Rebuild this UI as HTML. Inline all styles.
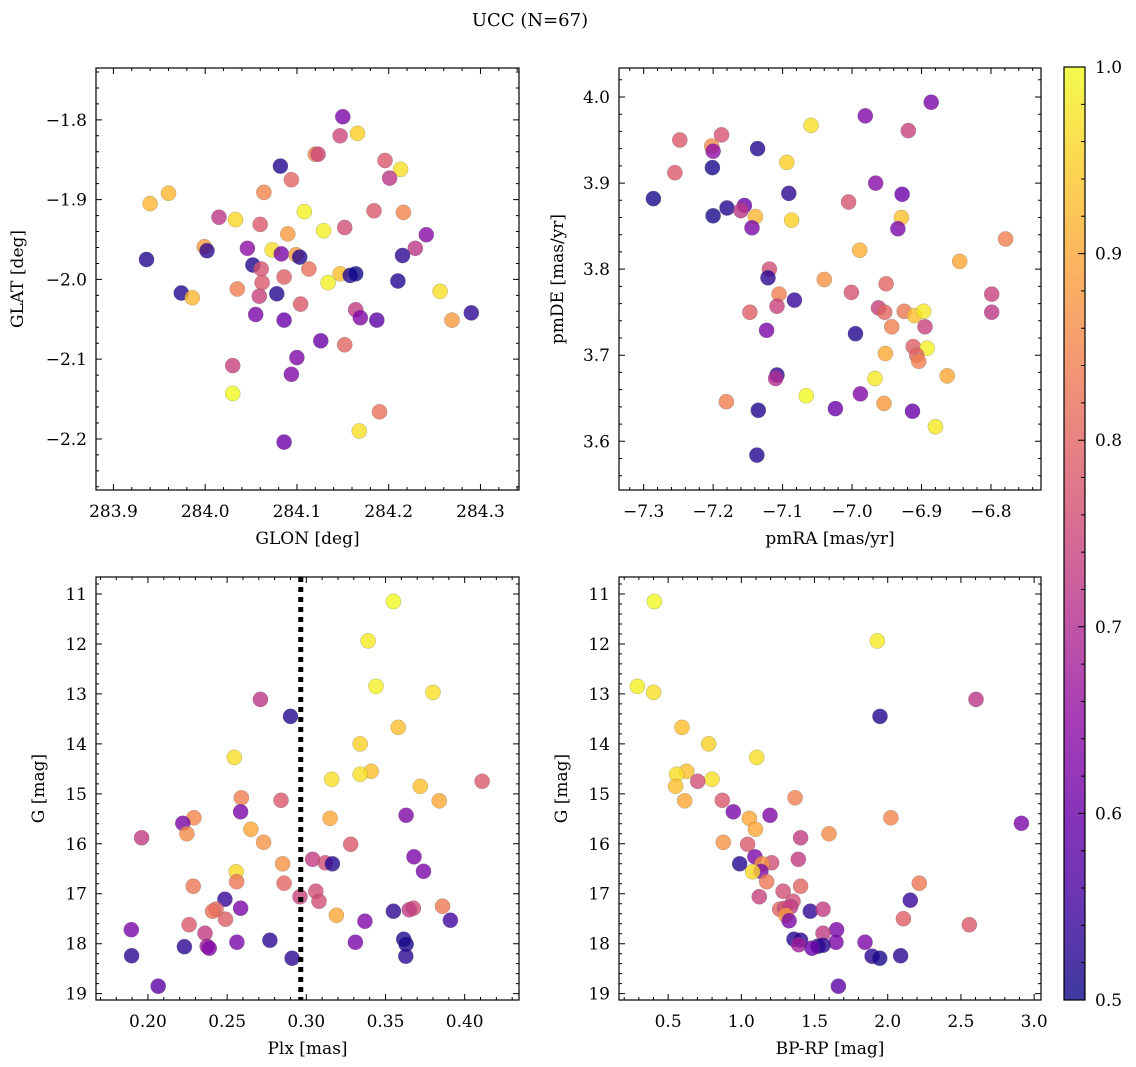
<!DOCTYPE html>
<html><head><meta charset="utf-8">
<style>
html,body{margin:0;padding:0;background:#fff;}
svg{display:block;font-family:"DejaVu Serif","Liberation Serif",serif;}
</style></head>
<body>
<svg id="fig" width="1136" height="1067" viewBox="0 0 1136 1067" xmlns="http://www.w3.org/2000/svg">
<rect width="1136" height="1067" fill="#fff"/>
<text x="530" y="26" font-size="18" text-anchor="middle" fill="#000">UCC (N=67)</text>
</svg>
<script>
// ---- Panel 1: GLON vs GLAT ----
const p1_glon=[284.150,284.147,284.166,284.120,284.123,284.082,284.094,284.196,284.213,284.201,283.940,283.960,284.064,284.015,284.033,284.108,284.184,284.216,284.060,284.090,284.129,284.152,284.241,283.999,284.002,284.046,284.073,284.083,284.099,284.103,284.229,284.215,283.936,284.052,284.061,284.062,284.086,284.113,284.147,284.158,284.164,284.134,284.210,283.974,283.986,284.035,284.059,284.078,284.104,284.055,284.086,284.164,284.169,284.187,284.256,284.269,284.290,284.126,284.152,284.100,284.030,284.094,284.030,284.190,284.168,284.086];
const p1_glat=[-1.796,-1.820,-1.817,-1.843,-1.843,-1.858,-1.875,-1.851,-1.862,-1.873,-1.905,-1.892,-1.891,-1.922,-1.925,-1.915,-1.914,-1.916,-1.931,-1.943,-1.939,-1.935,-1.944,-1.959,-1.964,-1.961,-1.963,-1.968,-1.969,-1.972,-1.961,-1.970,-1.975,-1.982,-1.987,-2.004,-1.997,-1.987,-1.993,-1.995,-1.993,-2.004,-2.002,-2.017,-2.023,-2.012,-2.021,-2.018,-2.031,-2.044,-2.051,-2.038,-2.048,-2.051,-2.015,-2.051,-2.042,-2.077,-2.082,-2.098,-2.108,-2.119,-2.143,-2.166,-2.190,-2.204];
const p1_prob=[0.62,0.75,0.95,0.85,0.75,0.52,0.80,0.78,0.97,0.72,0.92,0.92,0.85,0.72,0.96,0.99,0.78,0.85,0.78,0.88,0.99,0.76,0.64,0.88,0.53,0.65,0.97,0.62,0.88,0.52,0.72,0.53,0.52,0.52,0.77,0.78,0.79,0.82,0.93,0.52,0.50,0.99,0.52,0.52,0.92,0.84,0.74,0.52,0.78,0.62,0.60,0.73,0.63,0.58,0.97,0.88,0.53,0.60,0.80,0.63,0.74,0.63,1.00,0.82,0.97,0.60];
const p1_xticks=[283.9,284.0,284.1,284.2,284.3];
const p1_yticks=[-1.8,-1.9,-2.0,-2.1,-2.2];

// ---- Panel 2: pmRA vs pmDE ----
const p2_pmra=[-6.886,-6.981,-7.059,-6.919,-7.188,-7.248,-7.202,-7.200,-7.136,-7.094,-7.255,-7.201,-7.286,-7.091,-7.005,-6.966,-6.928,-7.180,-7.155,-7.160,-7.200,-7.139,-7.144,-7.087,-6.929,-6.934,-6.779,-6.989,-6.845,-7.119,-7.121,-7.040,-6.951,-7.001,-6.799,-7.105,-7.083,-7.108,-7.147,-6.962,-6.953,-6.925,-6.910,-6.897,-6.799,-6.943,-6.895,-7.123,-6.995,-6.912,-6.892,-6.907,-6.904,-6.952,-7.108,-7.110,-6.967,-6.863,-7.066,-6.988,-7.181,-6.954,-7.024,-7.135,-6.913,-6.880,-7.137];
const p2_pmde=[3.994,3.978,3.967,3.961,3.956,3.950,3.943,3.937,3.940,3.924,3.912,3.918,3.882,3.888,3.878,3.900,3.887,3.871,3.874,3.868,3.862,3.861,3.848,3.857,3.860,3.847,3.835,3.822,3.809,3.800,3.790,3.788,3.783,3.773,3.771,3.771,3.764,3.757,3.750,3.755,3.750,3.751,3.746,3.751,3.750,3.733,3.733,3.729,3.725,3.710,3.708,3.700,3.693,3.702,3.677,3.673,3.673,3.676,3.653,3.655,3.646,3.644,3.638,3.636,3.635,3.617,3.584];
const p2_prob=[0.62,0.63,0.97,0.74,0.77,0.78,0.86,0.65,0.52,0.95,0.78,0.51,0.51,0.53,0.77,0.64,0.60,0.52,0.60,0.72,0.51,0.92,0.62,0.95,0.93,0.62,0.84,0.91,0.90,0.76,0.53,0.87,0.80,0.77,0.74,0.84,0.54,0.74,0.79,0.74,0.80,0.83,0.93,0.98,0.72,0.84,0.74,0.62,0.52,0.79,0.99,0.80,0.84,0.90,0.54,0.70,0.98,0.90,1.00,0.63,0.84,0.88,0.60,0.52,0.60,0.98,0.52];
const p2_xticks=[-7.3,-7.2,-7.1,-7.0,-6.9,-6.8];
const p2_yticks=[4.0,3.9,3.8,3.7,3.6];

// ---- Panel 3: Plx vs G ----
const p3_plx=[0.355,0.339,0.344,0.380,0.271,0.290,0.358,0.334,0.2545,0.341,0.334,0.316,0.411,0.372,0.259,0.284,0.384,0.2585,0.363,0.229,0.315,0.222,0.265,0.2246,0.196,0.273,0.328,0.368,0.304,0.312,0.3165,0.285,0.374,0.2557,0.256,0.286,0.2286,0.306,0.296,0.2486,0.308,0.386,0.2585,0.3676,0.365,0.243,0.2408,0.355,0.319,0.249,0.391,0.337,0.226,0.1895,0.236,0.3615,0.277,0.2562,0.331,0.363,0.2374,0.2387,0.223,0.1897,0.3628,0.291,0.2065];
const p3_g=[11.15,11.94,12.85,12.97,13.11,13.45,13.67,14.00,14.27,14.55,14.61,14.71,14.75,14.85,15.08,15.13,15.14,15.36,15.43,15.48,15.49,15.59,15.71,15.80,15.88,15.97,16.01,16.26,16.31,16.38,16.40,16.40,16.55,16.56,16.76,16.79,16.85,16.95,17.06,17.11,17.15,17.25,17.29,17.29,17.32,17.31,17.35,17.35,17.43,17.51,17.53,17.55,17.62,17.72,17.79,17.91,17.93,17.97,17.97,18.01,18.05,18.09,18.06,18.24,18.25,18.29,18.85];
const p3_prob=[1.00,0.98,0.99,0.97,0.72,0.52,0.93,0.95,0.97,0.93,0.97,0.97,0.78,0.93,0.84,0.78,0.90,0.62,0.63,0.85,0.90,0.62,0.90,0.86,0.73,0.87,0.78,0.62,0.73,0.76,0.52,0.87,0.62,0.96,0.83,0.80,0.83,0.76,0.74,0.54,0.76,0.83,0.62,0.76,0.73,0.80,0.82,0.53,0.90,0.79,0.55,0.63,0.78,0.62,0.73,0.52,0.53,0.62,0.62,0.51,0.68,0.63,0.53,0.53,0.53,0.53,0.58];
const p3_xticks=[0.20,0.25,0.30,0.35,0.40];
const p3_yticks=[11,12,13,14,15,16,17,18,19];
const p3_plx_ref=[0.2965];

// ---- Panel 4: BP-RP vs G ----
const p4_bprp=[0.406,1.929,0.290,0.401,2.603,1.947,0.595,0.777,1.105,0.627,0.558,0.800,0.702,0.551,1.367,0.870,0.613,0.945,1.196,2.022,1.055,2.913,1.096,1.599,1.405,0.877,1.043,1.093,1.389,1.207,0.989,1.141,1.134,1.077,1.173,1.405,2.216,1.285,1.123,2.154,1.353,1.262,1.296,1.337,1.303,1.326,1.471,1.558,2.107,2.557,1.651,1.558,1.360,1.405,1.392,1.845,1.647,1.524,1.558,1.483,1.893,1.945,2.088,1.663];
const p4_g=[11.15,11.94,12.85,12.97,13.11,13.45,13.67,14.00,14.27,14.55,14.61,14.71,14.75,14.85,15.08,15.13,15.14,15.36,15.43,15.48,15.49,15.59,15.71,15.80,15.88,15.97,16.01,16.26,16.31,16.38,16.40,16.40,16.55,16.56,16.76,16.85,16.79,16.95,17.06,17.13,17.15,17.31,17.29,17.26,17.43,17.54,17.35,17.31,17.50,17.62,17.72,17.79,17.91,17.93,18.02,17.97,17.97,18.05,18.03,18.09,18.25,18.29,18.24,18.85];
const p4_prob=[1.00,0.98,0.99,0.97,0.72,0.52,0.93,0.95,0.97,0.93,0.97,0.97,0.76,0.93,0.84,0.78,0.90,0.62,0.63,0.85,0.90,0.62,0.90,0.86,0.73,0.87,0.78,0.62,0.73,0.76,0.52,0.87,0.62,0.96,0.83,0.80,0.83,0.76,0.74,0.54,0.76,0.80,0.76,0.73,0.88,0.62,0.53,0.73,0.79,0.78,0.62,0.73,0.52,0.53,0.68,0.62,0.62,0.51,0.53,0.60,0.53,0.51,0.53,0.58];
const p4_xticks=[0.5,1.0,1.5,2.0,2.5,3.0];
const p4_yticks=[11,12,13,14,15,16,17,18,19];

// ---- Colorbar ----
const cb_ticks=[0.5,0.6,0.7,0.8,0.9,1.0];
const cb_range=[0.5,1.0];

const NS="http://www.w3.org/2000/svg";
const svg=document.getElementById('fig');
function el(tag,attrs,parent){const e=document.createElementNS(NS,tag);for(const k in attrs)e.setAttribute(k,attrs[k]);(parent||svg).appendChild(e);return e;}
const stops=["#0d0887","#41049d","#6a00a8","#8f0da4","#b12a90","#cc4778","#e16462","#f2844b","#fca636","#fcce25","#f0f921"];
function hex(h){return [parseInt(h.slice(1,3),16),parseInt(h.slice(3,5),16),parseInt(h.slice(5,7),16)];}
function plasma(t){t=Math.max(0,Math.min(1,t));const f=t*10;const i=Math.min(9,Math.floor(f));const u=f-i;const a=hex(stops[i]),b=hex(stops[i+1]);return 'rgb('+a.map((v,k)=>Math.round(v+(b[k]-v)*u)).join(',')+')';}
function cval(p){return (p-cb_range[0])/(cb_range[1]-cb_range[0]);}
function fmt(v,d){const s=v.toFixed(d);return s.replace('-','\u2212');}

function panel(o){
  const g=el('g',{});
  
  
  const sx=v=>o.x0+(v-o.xd[0])/(o.xd[1]-o.xd[0])*(o.x1-o.x0);
  const sy=v=>o.y1-(v-o.yd[0])/(o.yd[1]-o.yd[0])*(o.y1-o.y0);
  const pg=el('g',{},g);
  
  
  for(let i=0;i<o.xs.length;i++){
    const c=el('circle',{cx:sx(o.xs[i]).toFixed(1),cy:sy(o.ys[i]).toFixed(1),r:7.6,fill:plasma(cval(o.cs[i])),'fill-opacity':0.8,stroke:'#666','stroke-width':0.4,'stroke-opacity':0.6},pg);
    
    
  }
  if(o.extra)o.extra(g,sx,sy);
  const fr=el('rect',{x:o.x0,y:o.y0,width:o.x1-o.x0,height:o.y1-o.y0,fill:'none',stroke:'#000','stroke-width':1.2},g);
  
  
  const lo=Math.min(o.xd[0],o.xd[1]),hi=Math.max(o.xd[0],o.xd[1]);
  let tk='';
  for(let v=Math.ceil(lo/o.xm-1e-6)*o.xm;v<=hi+1e-9;v+=o.xm){const x=sx(v);tk+=`M${x},${o.y1}v-3M${x},${o.y0}v3`;}
  const ylo=Math.min(o.yd[0],o.yd[1]),yhi=Math.max(o.yd[0],o.yd[1]);
  for(let v=Math.ceil(ylo/o.ym-1e-6)*o.ym;v<=yhi+1e-9;v+=o.ym){const y=sy(v);tk+=`M${o.x0},${y}h3M${o.x1},${y}h-3`;}
  for(const v of o.xt){const x=sx(v);tk+=`M${x},${o.y1}v-6M${x},${o.y0}v6`;}
  for(const v of o.yt){const y=sy(v);tk+=`M${o.x0},${y}h6M${o.x1},${y}h-6`;}
  const tp=el('path',{d:tk,stroke:'#000','stroke-width':1,fill:'none'},g);
  
  
  for(const v of o.xt){
    const t=el('text',{x:sx(v),y:o.y1+27,'font-size':17,'text-anchor':'middle'},g);
    
    
    t.textContent=fmt(v,o.xdec);
  }
  for(const v of o.yt){
    const t=el('text',{x:o.x0-9,y:sy(v)+6,'font-size':17,'text-anchor':'end'},g);
    
    
    t.textContent=fmt(v,o.ydec);
  }
  const xl=el('text',{x:(o.x0+o.x1)/2,y:o.y1+54,'font-size':17,'text-anchor':'middle'},g);
  
  
  xl.textContent=o.xlabel;
  const yx=o.ylx, yy=(o.y0+o.y1)/2;
  const yl=el('text',{x:yx,y:yy,'font-size':17,'text-anchor':'middle',transform:`rotate(-90 ${yx} ${yy})`},g);
  
  
  yl.textContent=o.ylabel;
}

panel({name:'glon-glat-panel',x0:96,x1:519,y0:68,y1:490,xd:[283.881,284.342],yd:[-2.264,-1.735],xs:p1_glon,ys:p1_glat,cs:p1_prob,xt:p1_xticks,yt:p1_yticks,xm:0.02,ym:0.02,xdec:1,ydec:1,xlabel:'GLON [deg]',ylabel:'GLAT [deg]',ylx:23});
panel({name:'pm-panel',x0:619,x1:1041,y0:68,y1:490,xd:[-7.3355,-6.728],yd:[3.5434,4.0337],xs:p2_pmra,ys:p2_pmde,cs:p2_prob,xt:p2_xticks,yt:p2_yticks,xm:0.02,ym:0.02,xdec:1,ydec:1,xlabel:'pmRA [mas/yr]',ylabel:'pmDE [mas/yr]',ylx:563});
panel({name:'plx-g-panel',x0:96,x1:519,y0:577,y1:1000,xd:[0.1672,0.4343],yd:[19.127,10.66],xs:p3_plx,ys:p3_g,cs:p3_prob,xt:p3_xticks,yt:p3_yticks,xm:0.01,ym:0.2,xdec:2,ydec:0,xlabel:'Plx [mas]',ylabel:'G [mag]',ylx:44,
 extra:(g,sx,sy)=>{for(const v of p3_plx_ref){const l=el('line',{x1:sx(v),x2:sx(v),y1:577,y2:1000,stroke:'#000','stroke-width':5,'stroke-dasharray':'5 5'},g);
   
   }}});
panel({name:'cmd-panel',x0:619,x1:1041,y0:577,y1:1000,xd:[0.1644,3.047],yd:[19.127,10.66],xs:p4_bprp,ys:p4_g,cs:p4_prob,xt:p4_xticks,yt:p4_yticks,xm:0.1,ym:0.2,xdec:1,ydec:0,xlabel:'BP-RP [mag]',ylabel:'G [mag]',ylx:567});

(function(){
  const x0=1064,x1=1085,y0=67,y1=1000;
  const g=el('g',{});
  
  
  const defs=el('defs',{},g);
  const lg=el('linearGradient',{id:'cbg',x1:0,y1:1,x2:0,y2:0},defs);
  for(let i=0;i<=20;i++){el('stop',{offset:i/20,'stop-color':plasma(i/20),'stop-opacity':0.8},lg);}
  const r=el('rect',{x:x0,y:y0,width:x1-x0,height:y1-y0,fill:'url(#cbg)',stroke:'#000','stroke-width':1.2},g);
  
  
  const sy=v=>y1-(v-cb_range[0])/(cb_range[1]-cb_range[0])*(y1-y0);
  let d='';
  for(let v=cb_range[0];v<=cb_range[1]+1e-9;v+=0.02){d+=`M${x1},${sy(v)}h-4`;}
  for(const v of cb_ticks){d+=`M${x1},${sy(v)}h-7`;}
  el('path',{d:d,stroke:'#000','stroke-width':1},g);
  for(const v of cb_ticks){
    const t=el('text',{x:1095,y:sy(v)+6,'font-size':17},g);
    
    
    t.textContent=v.toFixed(1);
  }
})();
</script>
</body></html>
